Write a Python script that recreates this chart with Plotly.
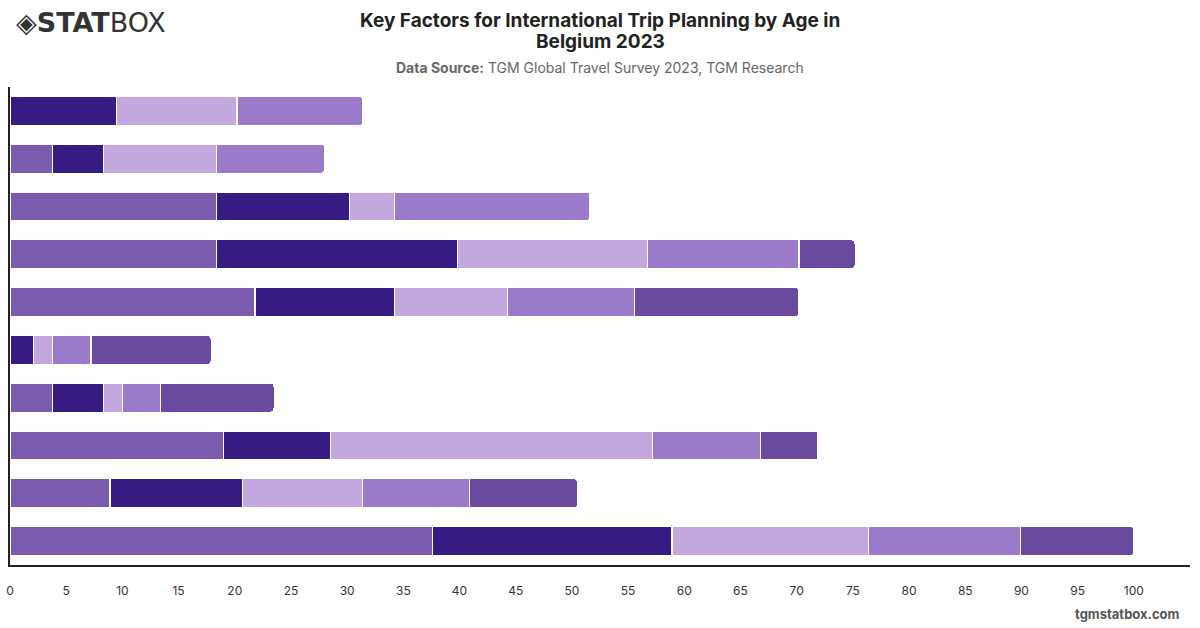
import plotly.graph_objects as go

categories = ["Cost", "Safety", "Destination", "Accommodation", "Activities",
              "Weather", "Culture", "Food", "Transport", "Recommendations"]
series_names = ["18-24", "25-34", "35-44", "45-54", "55+"]
s1 = [0, 3.8, 18.4, 18.4, 21.8, 0, 3.8, 19.0, 8.9, 37.6]
s2 = [9.5, 4.5, 11.8, 21.4, 12.4, 2.1, 4.5, 9.5, 11.8, 21.3]
s3 = [10.7, 10.1, 4.0, 16.9, 10.1, 1.7, 1.7, 28.7, 10.7, 17.5]
s4 = [11.2, 9.6, 17.4, 13.5, 11.3, 3.4, 3.4, 9.6, 9.5, 13.5]
s5 = [0, 0, 0, 5.0, 14.6, 10.7, 10.1, 5.1, 9.6, 10.1]
colors = ["#7B5BAD", "#361C82", "#C3A8DD", "#9B7BC9", "#6A4A9E"]
tick_vals = list(range(0, 101, 5))

fig = go.Figure()
for name, vals, col in zip(series_names, [s1, s2, s3, s4, s5], colors):
    fig.add_trace(go.Bar(
        y=categories, x=vals, name=name, orientation="h",
        marker=dict(color=col, line=dict(color="white", width=1.2)),
        hovertemplate="%{y}: %{x}%<extra>" + name + "</extra>",
    ))

fig.update_layout(
    barmode="stack",
    barcornerradius=4,
    bargap=0.39,
    width=1200, height=628,
    margin=dict(l=10, r=10, t=87, b=63, autoexpand=False),
    paper_bgcolor="white", plot_bgcolor="white",
    showlegend=False,
    font=dict(family="Inter, Roboto, sans-serif", color="#333"),
    xaxis=dict(range=[0, 105], tickvals=tick_vals, showgrid=False, zeroline=False,
               showline=True, linecolor="#222", linewidth=1.5, automargin=False,
               ticks="", tickfont=dict(size=12, color="#333"), ticklabelstandoff=14),
    yaxis=dict(autorange="reversed", showticklabels=False, showgrid=False, automargin=False,
               showline=True, linecolor="#222", linewidth=1.5, ticks=""),
)

fig.add_annotation(xref="paper", yref="paper", x=0.5, y=1, xanchor="center", yanchor="middle",
                   text="<b>Key Factors for International Trip Planning by Age in</b>",
                   showarrow=False, font=dict(size=19, color="#222"), yshift=67)
fig.add_annotation(xref="paper", yref="paper", x=0.5, y=1, xanchor="center", yanchor="middle",
                   text="<b>Belgium 2023</b>",
                   showarrow=False, font=dict(size=19, color="#222"), yshift=46)
fig.add_annotation(xref="paper", yref="paper", x=0.5, y=1, xanchor="center", yanchor="middle",
                   text="<b>Data Source:</b> TGM Global Travel Survey 2023, TGM Research",
                   showarrow=False, font=dict(size=14, color="#666"), yshift=20)
fig.add_annotation(xref="paper", yref="paper", x=0, y=1, xanchor="left", yanchor="middle",
                   text="◈<b>STAT</b>BOX", xshift=4, yshift=65,
                   showarrow=False, font=dict(size=27, color="#333", family="DejaVu Sans, sans-serif"))
fig.add_annotation(xref="paper", yref="paper", x=1, y=0, xanchor="right", yanchor="top",
                   text="<b>tgmstatbox.com</b>", yshift=-39, xshift=-8,
                   showarrow=False, font=dict(size=13, color="#555"))

fig.write_html("out.html")
